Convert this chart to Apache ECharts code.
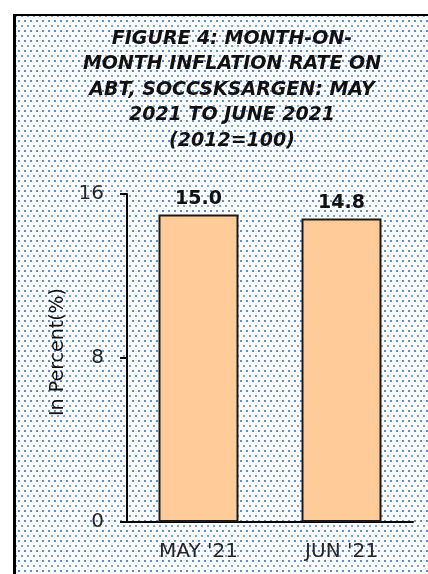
<!DOCTYPE html>
<html>
<head>
<meta charset="utf-8">
<script src="https://cdn.jsdelivr.net/npm/echarts@6/dist/echarts.min.js"></script>
<style>
  html, body { margin: 0; padding: 0; background: #ffffff; }
  #wrap { position: relative; width: 428px; height: 574px; background: #ffffff; overflow: hidden; }
  #panel {
    position: absolute; left: 13px; top: 14px; width: 420px; height: 570px;
    border-left: 3px solid #000; border-top: 2.5px solid #000;
    background-color: #fbfcfe;
    background-image:
      radial-gradient(circle, #5f8ecb 0.9px, rgba(255,255,255,0) 1.4px),
      radial-gradient(circle, #7ea4d6 0.8px, rgba(255,255,255,0) 1.3px);
    background-size: 6px 10px, 6px 10px;
    background-position: 0 0, 3px 5px;
  }
  #chart { position: absolute; left: 0; top: 0; width: 428px; height: 574px; }
</style>
</head>
<body>
<div id="wrap">
  <div id="panel"></div>
  <div id="chart"></div>
</div>
<script>
const titleLines = [
  "FIGURE 4: MONTH-ON-",
  "MONTH INFLATION RATE ON",
  "ABT, SOCCSKSARGEN: MAY",
  "2021 TO JUNE 2021",
  "(2012=100)"
];
const categories = ["MAY '21", "JUN '21"];
const inflationValues = [15.0, 14.8];
const yAxisName = "In Percent(%)";
const yMin = 0, yMax = 16, yInterval = 8;

const chart = echarts.init(document.getElementById('chart'), null, { renderer: 'canvas' });
chart.setOption({
  backgroundColor: 'transparent',
  animation: false,
  title: {
    text: titleLines.join('\n'),
    left: 227,
    top: 21,
    textAlign: 'center',
    textStyle: {
      fontFamily: 'DejaVu Sans',
      fontWeight: 'bold',
      fontStyle: 'italic',
      fontSize: 19,
      lineHeight: 25.5,
      color: '#111111'
    }
  },
  grid: { left: 127, right: 15, top: 194, bottom: 52, containLabel: false },
  xAxis: {
    type: 'category',
    data: categories,
    axisLine: { show: true, lineStyle: { color: '#000', width: 2 } },
    axisTick: { show: false },
    axisLabel: {
      margin: 20,
      fontFamily: 'DejaVu Sans',
      fontSize: 20,
      color: '#262626'
    }
  },
  yAxis: {
    type: 'value',
    min: yMin, max: yMax, interval: yInterval,
    name: yAxisName,
    nameLocation: 'middle',
    nameGap: 51,
    nameRotate: 90,
    nameTextStyle: { fontFamily: 'DejaVu Sans', fontSize: 19, color: '#111111', padding: [0, 0, 0, 12] },
    axisLine: { show: true, lineStyle: { color: '#000', width: 2 } },
    axisTick: { show: true, inside: false, length: 7, lineStyle: { color: '#000', width: 2 } },
    splitLine: { show: false },
    axisLabel: {
      margin: 23,
      fontFamily: 'DejaVu Sans',
      fontSize: 20,
      color: '#262626'
    }
  },
  series: [{
    type: 'bar',
    data: inflationValues,
    barWidth: 80,
    itemStyle: { color: '#ffcc99', borderColor: '#1a1a1a', borderWidth: 2 },
    label: {
      show: true,
      position: 'top',
      distance: 6,
      formatter: p => p.value.toFixed(1),
      fontFamily: 'DejaVu Sans',
      fontWeight: 'bold',
      fontSize: 19,
      color: '#111111'
    }
  }]
});
</script>
</body>
</html>
